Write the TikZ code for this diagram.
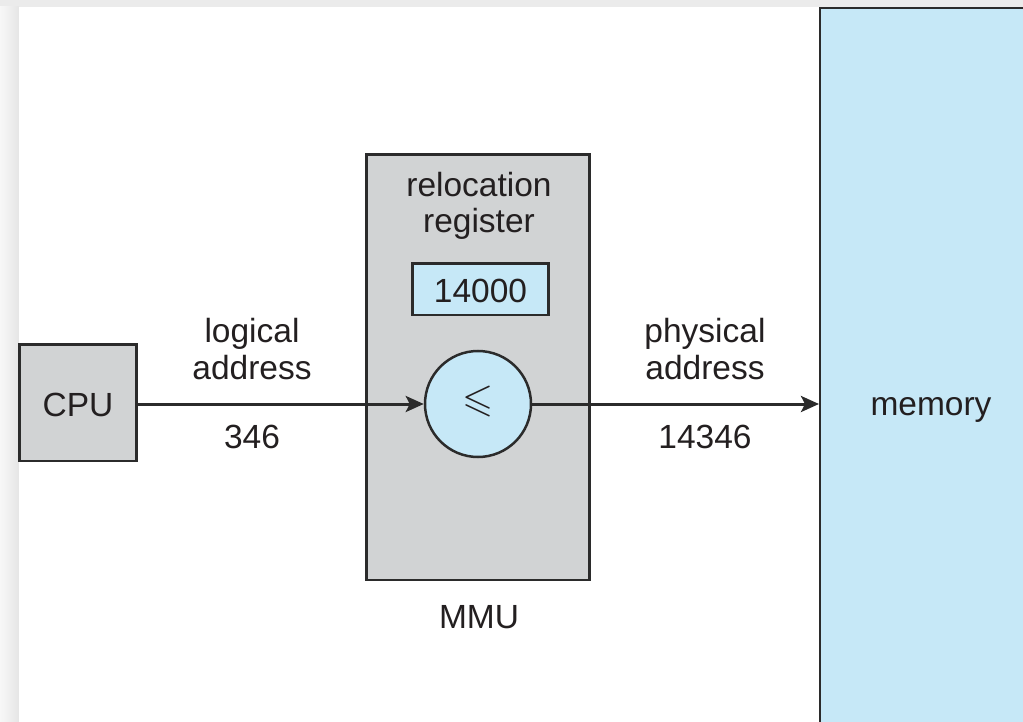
\documentclass[tikz,border=0pt]{standalone}
\usepackage{amssymb}
\usepackage{fontspec}
\setmainfont{Liberation Sans}
\usetikzlibrary{arrows.meta}
\definecolor{boxgray}{HTML}{D1D3D4}
\definecolor{lblue}{HTML}{C6E8F7}
\definecolor{edge}{HTML}{2B2B2B}
\definecolor{txt}{HTML}{231F20}
\tikzset{
  graybox/.style={draw=edge, fill=boxgray, line width=2.5pt},
  bluebox/.style={draw=edge, fill=lblue, line width=2.5pt},
  lbl/.style={text=txt, font=\fontsize{33.5}{37}\selectfont, anchor=base, inner sep=0pt},
  conn/.style={draw=edge, line width=3pt, -{Stealth[length=18pt,width=16pt,inset=4pt]}},
}
\begin{document}
\begin{tikzpicture}[x=1pt,y=-1pt]
\useasboundingbox (0,0) rectangle (1023,722);
% page shadow
\fill[black!8] (0,0) rectangle (1023,722);
\shade[left color=black!3, right color=black!10] (0,7) rectangle (19,722);
\fill[white] (19,7) rectangle (1023,722);
% memory
\path[bluebox] (820,8) rectangle (1030,730);
\node[lbl] (mem) at (931,415) {memory};
% CPU
\path[graybox] (19.5,344.5) rectangle (136.5,461);
\node[lbl] (cpu) at (78,416) {CPU};
\coordinate (cpuR) at (137,404);
% MMU
\path[graybox] (366.5,154.5) rectangle (589.5,580);
\node[lbl] (reloc1) at (479,197) {relocation};
\node[lbl] (reloc2) at (479,233) {register};
\path[bluebox] (412.5,263.5) rectangle (548.5,315);
\node[lbl] (reg) at (480.5,302) {14000};
\node[draw=edge, fill=lblue, line width=2.5pt, circle, minimum size=106pt, inner sep=0pt] (cmp) at (478,404) {};
\node[text=txt, inner sep=0pt] at (478.5,401) {\fontsize{40}{40}\selectfont$\leqslant$};
\node[lbl] (mmu) at (479,628) {MMU};
\coordinate (memL) at (819,404);
% labels
\node[lbl] (la1) at (252,342) {logical};
\node[lbl] (la2) at (252,379) {address};
\node[lbl] (v1) at (252,448) {346};
\node[lbl] (pa1) at (705,342) {physical};
\node[lbl] (pa2) at (705,379) {address};
\node[lbl] (v2) at (705,448) {14346};
% connectors
\draw[conn] (cpuR) -- (cmp.west);
\draw[conn] (cmp.east) -- (memL);
\end{tikzpicture}
\end{document}
